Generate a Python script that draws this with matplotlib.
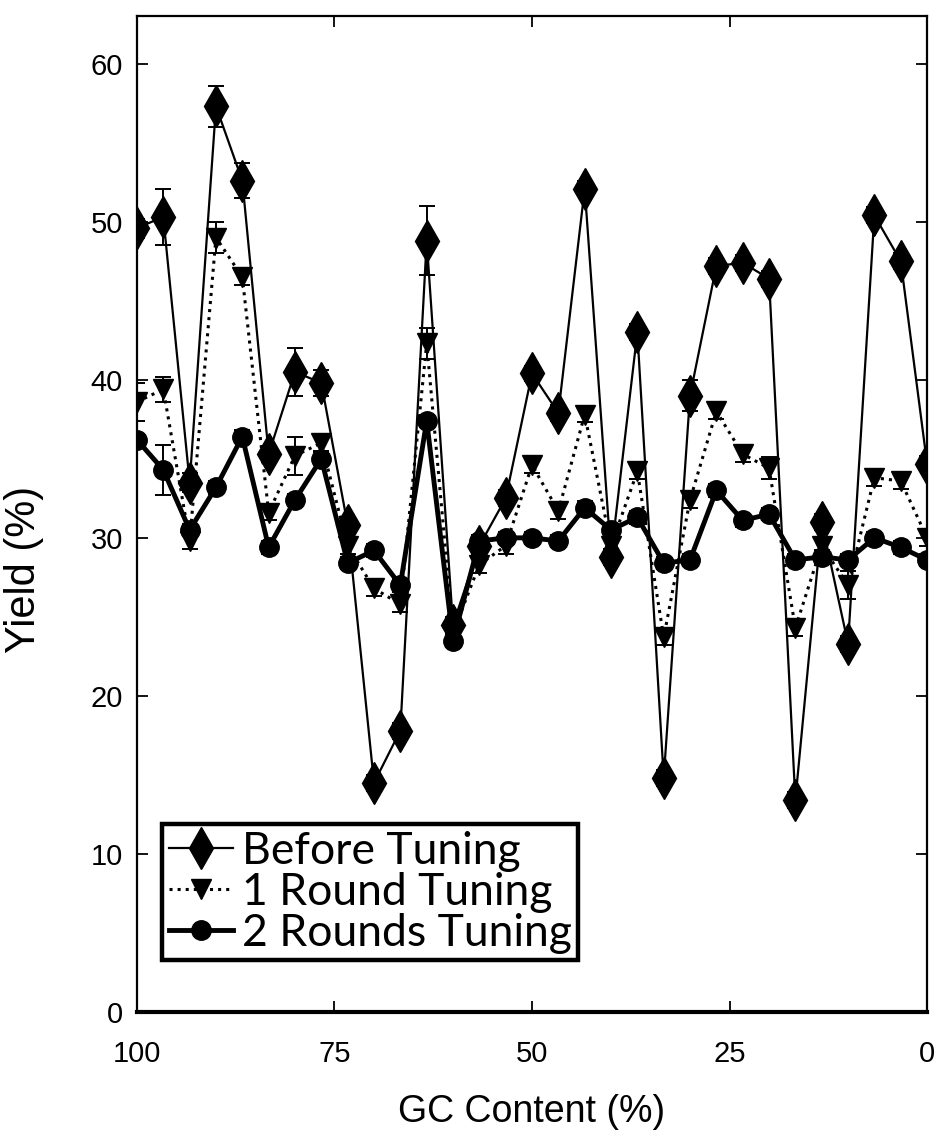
import matplotlib
matplotlib.use("Agg")
import matplotlib.pyplot as plt
from matplotlib import font_manager

# ---------------- data ----------------
gc_content = [100, 96.67, 93.33, 90, 86.67, 83.33, 80, 76.67, 73.33, 70, 66.67,
              63.33, 60, 56.67, 53.33, 50, 46.67, 43.33, 40, 36.67, 33.33,
              30, 26.67, 23.33, 20, 16.67, 13.33, 10, 6.67, 3.33, 0]

before_tuning = [49.6, 50.3, 33.5, 57.3, 52.6, 35.3, 40.5, 39.8, 30.8, 14.5, 17.8,
                 48.8, 24.5, 29.5, 32.5, 40.4, 37.9, 52.1, 28.8, 43.0, 14.8,
                 39.0, 47.2, 47.4, 46.4, 13.4, 31.0, 23.3, 50.4, 47.5, 34.7]
before_err = [0.6, 1.8, 0.6, 1.3, 1.1, 0.5, 1.5, 0.8, 0.5, 0.5, 0.5,
              2.2, 0.5, 0.5, 0.5, 0.5, 0.5, 0.5, 0.5, 0.5, 0.5,
              1.0, 0.5, 0.5, 0.5, 0.5, 0.5, 0.5, 0.5, 0.5, 0.5]

one_round = [38.6, 39.4, 29.8, 49.0, 46.5, 31.6, 35.2, 36.0, 29.5, 26.8, 25.8,
             42.3, 24.0, 28.3, 29.5, 34.6, 31.7, 37.8, 29.5, 34.2, 23.7,
             32.4, 38.0, 35.3, 34.4, 24.3, 29.5, 27.0, 33.8, 33.6, 30.0]
one_round_err = [1.2, 0.8, 0.5, 1.0, 0.5, 0.5, 1.2, 0.5, 0.5, 0.5, 0.5,
                 1.0, 0.5, 0.5, 0.5, 0.5, 0.5, 0.5, 0.5, 0.5, 0.5,
                 0.5, 0.5, 0.5, 0.7, 0.5, 0.5, 0.9, 0.5, 0.5, 0.5]

two_rounds = [36.2, 34.3, 30.5, 33.2, 36.4, 29.4, 32.4, 35.0, 28.4, 29.2, 27.0,
              37.4, 23.5, 29.8, 30.0, 30.0, 29.8, 31.9, 30.5, 31.3, 28.4,
              28.6, 33.0, 31.1, 31.5, 28.6, 28.8, 28.6, 30.0, 29.4, 28.6]
two_rounds_err = [0.4, 1.6, 0.4, 0.4, 0.4, 0.4, 0.4, 0.4, 0.4, 0.4, 0.4,
                  0.4, 0.4, 0.4, 0.4, 0.4, 0.4, 0.4, 0.4, 0.4, 0.4,
                  0.4, 0.4, 0.4, 0.4, 0.4, 0.4, 0.4, 0.4, 0.4, 0.4]

series_labels = ["Before Tuning", "1 Round Tuning", "2 Rounds Tuning"]
x_ticks = [100, 75, 50, 25, 0]
y_ticks = [0, 10, 20, 30, 40, 50, 60]

# ---------------- fonts ----------------
available = {f.name for f in font_manager.fontManager.ttflist}
narrow = [f for f in ["Liberation Sans Narrow", "Liberation Sans"] if f in available]
narrow = narrow + ["DejaVu Sans"]
legend_font = [f for f in ["Lato", "Open Sans"] if f in available] + ["DejaVu Sans"]

# ---------------- figure ----------------
fig = plt.figure(figsize=(9.35, 11.42), dpi=100)
ax = fig.add_axes([0.1465, 0.1138, 0.845, 0.872])

h1 = ax.errorbar(gc_content, before_tuning, yerr=before_err, color="black",
                 linestyle="-", linewidth=1.6, marker="d", markersize=21,
                 capsize=6, elinewidth=1.4, capthick=1.4, zorder=3,
                 label=series_labels[0])
h2 = ax.errorbar(gc_content, one_round, yerr=one_round_err, color="black",
                 linestyle=":", linewidth=2.2, marker="v", markersize=15,
                 capsize=6, elinewidth=1.4, capthick=1.4, zorder=4,
                 label=series_labels[1])
h3 = ax.errorbar(gc_content, two_rounds, yerr=two_rounds_err, color="black",
                 linestyle="-", linewidth=3.5, marker="o", markersize=14,
                 capsize=6, elinewidth=1.4, capthick=1.4, zorder=5,
                 label=series_labels[2])

ax.set_xlim(100, 0)
ax.set_ylim(0, 63)
ax.set_xticks(x_ticks)
ax.set_yticks(y_ticks)
ax.set_xticklabels([str(t) for t in x_ticks], family=narrow, fontsize=21)
ax.set_yticklabels([str(t) for t in y_ticks], family=narrow, fontsize=21)
ax.tick_params(direction="in", length=8, width=1.3, top=True, right=True,
               colors="black")
ax.tick_params(axis="x", pad=20)
ax.tick_params(axis="y", pad=10)

for side in ["left", "right", "top"]:
    ax.spines[side].set_linewidth(1.6)
ax.spines["bottom"].set_linewidth(3)

ax.set_xlabel("GC Content (%)", family=narrow, fontsize=27)
ax.xaxis.set_label_coords(0.5, -0.082)
ax.set_ylabel("Yield (%)", family=narrow, fontsize=30)
ax.yaxis.set_label_coords(-0.118, 0.444)

leg = ax.legend(handles=[h1.lines[0], h2.lines[0], h3.lines[0]],
                labels=series_labels,
                loc="lower left", bbox_to_anchor=(0.0315, 0.052),
                borderaxespad=0, frameon=True, fancybox=False, framealpha=1,
                edgecolor="black", handlelength=1.45, handletextpad=0.2,
                labelspacing=0.0, borderpad=0.15,
                prop={"family": legend_font, "size": 32})
leg.get_frame().set_linewidth(3.2)

fig.savefig("out.png", dpi=100)
